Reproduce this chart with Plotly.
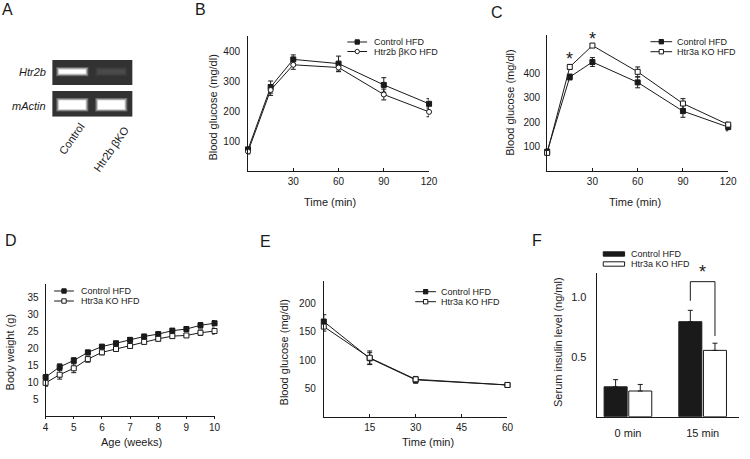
import plotly.graph_objects as go

W, H = 750, 459
FONT = "Arial, Liberation Sans, sans-serif"
INK = "#1a1a1a"

# ---------------- data ----------------
# Panel A (gel band intensities, lanes x genes)
A_lanes = ["Control", "Htr2b βKO"]
A_genes = ["Htr2b", "mActin"]
A_htr2b = [1.0, 0.12]
A_mactin = [1.0, 1.0]

# Panel B
B_time = [0, 15, 30, 60, 90, 120]
B_ctrl = [72, 280, 372, 358, 287, 224]
B_ctrl_err = [8, 20, 15, 25, 24, 17]
B_ko = [65, 270, 354, 345, 255, 197]
B_ko_err = [8, 18, 15, 14, 18, 16]
B_names = ["Control HFD", "Htr2b βKO HFD"]

# Panel C
C_time = [0, 15, 30, 60, 90, 120]
C_ctrl = [80, 384, 445, 362, 245, 180]
C_ctrl_err = [10, 12, 18, 22, 25, 15]
C_ko = [75, 425, 512, 405, 276, 190]
C_ko_err = [8, 10, 8, 20, 20, 10]
C_sig = [15, 30]
C_names = ["Control HFD", "Htr3a KO HFD"]

# Panel D
D_age = [4, 4.5, 5, 5.5, 6, 6.5, 7, 7.5, 8, 8.5, 9, 9.5, 10]
D_ctrl = [11.5, 14.5, 16.4, 18.8, 20.5, 21.5, 22.5, 23.5, 24.2, 25.2, 25.7, 26.8, 27.4]
D_ctrl_err = [0.8, 0.9, 0.8, 0.6, 0.5, 0.5, 0.6, 0.6, 0.6, 0.7, 0.7, 0.8, 0.8]
D_ko = [9.8, 12.2, 14.1, 16.8, 18.8, 19.8, 20.7, 21.9, 22.8, 23.6, 23.8, 24.6, 25.1]
D_ko_err = [1.0, 1.3, 1.3, 0.9, 0.7, 0.6, 0.7, 0.6, 0.6, 0.6, 0.6, 0.8, 0.9]
D_names = ["Control HFD", "Htr3a KO HFD"]

# Panel E
E_time = [0, 15, 30, 60]
E_ctrl = [168, 103, 65, 56]
E_ctrl_err = [12, 10, 6, 4]
E_ko = [159, 104, 66, 56]
E_ko_err = [8, 12, 5, 4]
E_names = ["Control HFD", "Htr3a KO HFD"]

# Panel F
F_cats = ["0 min", "15 min"]
F_ctrl = [0.25, 0.795]
F_ctrl_err = [0.06, 0.095]
F_ko = [0.215, 0.555]
F_ko_err = [0.055, 0.06]
F_names = ["Control HFD", "Htr3a KO HFD"]


def px(x):
    return x / W


def py(y):
    return 1 - y / H


fig = go.Figure()
annotations = []
shapes = []


def text(x, y, s, size=10, angle=0, xanchor="center", yanchor="middle", italic=False):
    if italic:
        s = "<i>" + s + "</i>"
    annotations.append(dict(x=px(x), y=py(y), xref="paper", yref="paper", text=s,
                            showarrow=False, textangle=angle, xanchor=xanchor,
                            yanchor=yanchor, font=dict(family=FONT, size=size, color=INK)))


def series(xs, ys, err, ax, symbol, fill):
    fig.add_trace(go.Scatter(
        x=xs, y=ys, xaxis="x" + ax, yaxis="y" + ax, mode="lines+markers",
        line=dict(color=INK, width=1), cliponaxis=False, showlegend=False,
        marker=dict(symbol=symbol, size=5, color=fill, line=dict(color=INK, width=1)),
        error_y=dict(type="data", array=err, color=INK, thickness=1, width=2.5)))


def legend(x0, x1, xt, ys, names, symbols, size=9):
    for y, name, (kind, fill) in zip(ys, names, symbols):
        shapes.append(dict(type="line", xref="paper", yref="paper", x0=px(x0), x1=px(x1),
                           y0=py(y), y1=py(y), line=dict(color=INK, width=1)))
        xc = (x0 + x1) / 2
        r = 2.2
        shapes.append(dict(type=kind, xref="paper", yref="paper", x0=px(xc - r), x1=px(xc + r),
                           y0=py(y + r), y1=py(y - r), fillcolor=fill, line=dict(color=INK, width=1)))
        text(xt, y, name, size=size, xanchor="left")


def axis(domain, rng, tickvals, anchor, ticks="", ticklen=0, size=10, standoff=4, ticktext=None):
    d = dict(domain=domain, range=rng, tickvals=tickvals, anchor=anchor, showline=True,
             linecolor=INK, linewidth=1, showgrid=False, zeroline=False, ticks=ticks,
             ticklen=ticklen, tickcolor=INK, tickwidth=1, ticklabelstandoff=standoff,
             tickfont=dict(family=FONT, size=size, color=INK), fixedrange=True)
    if ticktext is not None:
        d["ticktext"] = ticktext
    return d


layout_axes = {}

# ---------------- Panel A (gel) ----------------
layout_axes["xaxis"] = dict(domain=[px(50), px(131.7)], range=[0, 2], visible=False, anchor="y", fixedrange=True)
layout_axes["yaxis"] = dict(domain=[py(116.7), py(60)], range=[0, 2], visible=False, anchor="x", fixedrange=True)
GEL = (50, 50, 50)
rows = [(1.12, 2.0, 1.59, 0.14, A_htr2b), (0.0, 0.91, 0.42, 0.30, A_mactin)]
lane_x = [0.5, 1.47]
for (r0, r1, yc, bh, vals) in rows:
    shapes.append(dict(type="rect", xref="x", yref="y", x0=0, x1=2, y0=r0, y1=r1,
                       fillcolor="rgb(50,50,50)", line=dict(width=0), layer="below"))
    for lx, v in zip(lane_x, vals):
        for gx, gy, k in [(0.07, 0.09, 0.25), (0.045, 0.06, 0.5), (0.02, 0.03, 0.8), (0.0, 0.0, 1.0)]:
            a = v * k
            c = tuple(int(g + (255 - g) * a) for g in GEL)
            shapes.append(dict(type="rect", xref="x", yref="y", x0=lx - 0.33 - gx, x1=lx + 0.33 + gx,
                               y0=yc - bh / 2 - gy, y1=yc + bh / 2 + gy,
                               fillcolor="rgb(%d,%d,%d)" % c, line=dict(width=0)))
text(46, 72, A_genes[0], size=11, xanchor="right", italic=True)
text(46, 106, A_genes[1], size=11, xanchor="right", italic=True)
text(69.5, 139, A_lanes[0], size=11, angle=-55)
text(110, 149, A_lanes[1], size=11, angle=-55)

# ---------------- Panel B ----------------
layout_axes["xaxis2"] = axis([px(249), px(433)], [0, 120], [30, 60, 90, 120], "y2", ticks="inside", ticklen=3, standoff=1)
layout_axes["yaxis2"] = axis([py(171), py(36)], [0, 450], [100, 200, 300, 400], "x2", standoff=5)
series(B_time, B_ctrl, B_ctrl_err, "2", "square", INK)
series(B_time, B_ko, B_ko_err, "2", "circle", "white")
legend(350, 370, 375, [42, 51.5], B_names, [("rect", INK), ("circle", "white")])
text(213, 108, "Blood glucose (mg/dl)", size=11, angle=-90)
text(332, 202, "Time (min)", size=11)

# ---------------- Panel C ----------------
layout_axes["xaxis3"] = axis([px(553), px(737)], [0, 120], [30, 60, 90, 120], "y3", ticks="inside", ticklen=3, standoff=1)
layout_axes["yaxis3"] = axis([py(171.3), py(35)], [0, 555], [100, 200, 300, 400], "x3", standoff=4)
series(C_time, C_ctrl, C_ctrl_err, "3", "square", INK)
series(C_time, C_ko, C_ko_err, "3", "square", "white")
legend(658, 680, 683, [41.7, 51.7], C_names, [("rect", INK), ("rect", "white")])
for t in C_sig:
    i = C_time.index(t)
    annotations.append(dict(x=t, y=C_ko[i] + C_ko_err[i], xref="x3", yref="y3", text="*",
                            showarrow=False, yanchor="bottom", yshift=-7,
                            font=dict(family=FONT, size=18, color=INK)))
text(515, 103, "Blood glucose (mg/dl)", size=11, angle=-90)
text(642, 202, "Time (min)", size=11)

# ---------------- Panel D ----------------
layout_axes["xaxis4"] = axis([px(43.3), px(215)], [4, 10], [4, 5, 6, 7, 8, 9, 10], "y4", ticks="outside", ticklen=2, standoff=0)
layout_axes["yaxis4"] = axis([py(416), py(284)], [0, 39], [5, 10, 15, 20, 25, 30, 35], "x4", standoff=4)
series(D_age, D_ctrl, D_ctrl_err, "4", "square", INK)
series(D_age, D_ko, D_ko_err, "4", "square", "white")
legend(52, 72, 77, [291, 301], D_names, [("rect", INK), ("rect", "white")])
text(7.5, 352, "Body weight (g)", size=11, angle=-90)
text(131, 442, "Age (weeks)", size=11)

# ---------------- Panel E ----------------
layout_axes["xaxis5"] = axis([px(326), px(512.7)], [0, 60], [15, 30, 45, 60], "y5", ticks="inside", ticklen=3, standoff=1)
layout_axes["yaxis5"] = axis([py(416.7), py(280.7)], [0, 240], [50, 100, 150, 200], "x5", standoff=5)
series(E_time, E_ctrl, E_ctrl_err, "5", "square", INK)
series(E_time, E_ko, E_ko_err, "5", "square", "white")
legend(419, 440, 443, [291.7, 301.7], E_names, [("rect", INK), ("rect", "white")])
text(286, 352, "Blood glucose (mg/dl)", size=11, angle=-90)
text(432, 442, "Time (min)", size=11)

# ---------------- Panel F ----------------
F_x = list(range(len(F_cats)))
layout_axes["xaxis6"] = axis([px(603.3), px(748.3)], [-0.42, 1.49], F_x, "y6", size=11, standoff=6, ticktext=F_cats)
layout_axes["yaxis6"] = axis([py(416.7), py(273.3)], [0, 1.2], [0.5, 1.0], "x6", size=11, standoff=7)
layout_axes["yaxis6"]["tickformat"] = ".1f"
BW = 0.308
OFF = [-0.32, 0.01]
for vals, err, fill, off, name in [(F_ctrl, F_ctrl_err, INK, OFF[0], F_names[0]),
                                   (F_ko, F_ko_err, "white", OFF[1], F_names[1])]:
    fig.add_trace(go.Bar(x=F_x, y=vals, xaxis="x6", yaxis="y6", width=BW, offset=off,
                         marker=dict(color=fill, line=dict(color=INK, width=1)), name=name,
                         showlegend=False, cliponaxis=False,
                         error_y=dict(type="data", array=err, symmetric=False, arrayminus=[0] * len(err),
                                      color=INK, thickness=1, width=2.5)))
# significance bracket at 15 min
j = 1
cx = F_x[j] + OFF[0] + BW / 2
kx = F_x[j] + OFF[1] + BW / 2
top = F_ctrl[j] + F_ctrl_err[j] + 0.24
fig.add_trace(go.Scatter(x=[cx, cx, kx, kx],
                         y=[F_ctrl[j] + F_ctrl_err[j] + 0.08, top, top, F_ko[j] + F_ko_err[j] + 0.06],
                         xaxis="x6", yaxis="y6", mode="lines", line=dict(color=INK, width=1),
                         showlegend=False, cliponaxis=False, hoverinfo="skip"))
annotations.append(dict(x=(cx + kx) / 2, y=top, xref="x6", yref="y6", text="*", showarrow=False,
                        yanchor="bottom", yshift=-2, font=dict(family=FONT, size=18, color=INK)))
for y, name, fill in [(254, F_names[0], INK), (264, F_names[1], "white")]:
    shapes.append(dict(type="rect", xref="paper", yref="paper", x0=px(610), x1=px(631.7),
                       y0=py(y + 2.2), y1=py(y - 2.2), fillcolor=fill, line=dict(color=INK, width=1)))
    text(636.5, y, name, size=9, xanchor="left")
text(564, 342, "Serum insulin level (ng/ml)", size=11, angle=-90)

# ---------------- panel letters ----------------
for lab, x, y in [("A", 5, 9), ("B", 200.5, 10), ("C", 501.7, 12.5),
                  ("D", 8.3, 241), ("E", 266.7, 241.7), ("F", 542.5, 241)]:
    text(x, y, lab, size=16)

fig.update_layout(
    width=W, height=H, margin=dict(l=0, r=0, t=0, b=0),
    paper_bgcolor="white", plot_bgcolor="white", showlegend=False,
    annotations=annotations, shapes=shapes, **layout_axes)

fig.write_html("out.html", config={"displayModeBar": False},
               post_script="document.body.style.margin='0';document.body.style.overflow='hidden';")
